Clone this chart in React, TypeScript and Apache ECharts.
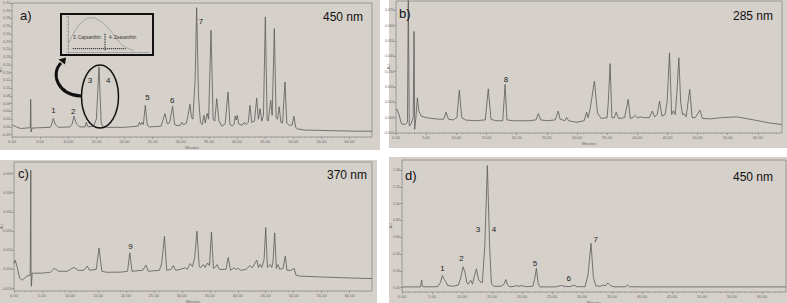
import React, { useEffect, useRef } from "react";
import * as echarts from "echarts";

// ---------- data ----------
const timeTicks = [0, 5, 10, 15, 20, 25, 30, 35, 40, 45, 50, 55, 60];
const aYTicks = [-0.02, 0, 0.02, 0.04, 0.06, 0.08, 0.1, 0.12, 0.14, 0.16, 0.18, 0.2, 0.22, 0.24, 0.26, 0.28, 0.3, 0.32];
const bYTicks = [-0.01, 0, 0.01, 0.02, 0.03, 0.04, 0.05, 0.06, 0.07];
const cYTicks = [-0.01, 0, 0.01, 0.02, 0.03, 0.04, 0.05];
const dYTicks = [0, 0.2, 0.4, 0.6, 0.8, 1.0, 1.2, 1.4];

// panel a) 450 nm  [minutes, AU]
const traceA = [
  [0, 0.002], [0.3, 0.004], [0.8, 0.0], [1.5, -0.004], [2.5, -0.003], [3.25, -0.002], [3.32, 0.071], [3.4, -0.013], [3.55, -0.003],
  [5, -0.002], [6.8, -0.001], [7.0, 0.004], [7.35, 0.022], [7.7, 0.006], [7.9, 0.004], [8.3, -0.001],
  [10.3, 0.0], [10.7, 0.008], [11.02, 0.028], [11.35, 0.012], [11.6, 0.006], [12.0, 0.0],
  [13.0, 0.0], [13.2, 0.012], [13.5, 0.0], [14.5, 0.002], [15.0, 0.02], [15.47, 0.155], [15.85, 0.01], [16.2, 0.0],
  [17, -0.001], [20, -0.001], [22.4, 0.002], [22.65, 0.012], [22.85, 0.005], [23.1, 0.012], [23.35, 0.006], [23.7, 0.056], [24.05, 0.004], [24.5, 0.0],
  [26.5, 0.002], [27.2, 0.0345], [27.6, 0.008], [28.0, 0.01], [28.56, 0.053], [28.9, 0.006], [29.5, 0.003],
  [30.0, 0.005], [30.2, 0.012], [30.5, 0.006], [31.0, 0.01], [31.3, 0.03], [31.64, 0.0586], [31.9, 0.025], [32.15, 0.02], [32.55, 0.12], [32.83, 0.308], [33.15, 0.08], [33.5, 0.012],
  [33.8, 0.006], [34.13, 0.03], [34.35, 0.01], [34.7, 0.035], [34.95, 0.02], [35.38, 0.2495], [35.75, 0.02], [36.05, 0.015], [36.39, 0.073], [36.8, 0.015], [37.3, 0.002], [37.9, 0.008], [38.4, 0.09], [38.75, 0.006], [39.2, 0.003],
  [39.5, 0.008], [39.68, 0.028], [39.85, 0.018], [40.05, 0.03], [40.3, 0.008], [40.9, 0.004], [41.3, 0.012], [41.6, 0.006], [42.0, 0.012], [42.3, 0.056], [42.6, 0.012], [43.1, 0.015], [43.5, 0.0748], [43.8, 0.02], [44.1, 0.047], [44.4, 0.015],
  [44.7, 0.03], [45.04, 0.284], [45.35, 0.02], [45.55, 0.015], [46.0, 0.069], [46.25, 0.03], [46.64, 0.254], [46.95, 0.025], [47.2, 0.02], [47.5, 0.052], [47.8, 0.012], [48.1, 0.01], [48.53, 0.116], [48.85, 0.01], [49.3, 0.004], [49.8, 0.005], [50.13, 0.0276], [50.4, 0.0], [50.7, -0.005],
  [52, -0.008], [55, -0.009], [58, -0.01], [61, -0.011], [64, -0.011],
];

// panel b) 285 nm
const traceB = [
  [0, 0.005], [0.15, 0.0055], [0.5, 0.002], [0.9, -0.004], [1.5, -0.0045], [1.9, -0.003], [2.04, 0.08], [2.2, -0.0055], [2.5, -0.004], [2.85, 0.0], [2.99, 0.0562], [3.1, -0.0076], [3.3, 0.0], [3.54, 0.013], [3.8, 0.004], [4.2, 0.001],
  [5, 0.0], [7, -0.001], [7.9, -0.001], [8.3, 0.0036], [8.7, -0.001], [9.5, -0.0015], [10.1, 0.0], [10.5, 0.0179], [10.9, 0.0], [11.5, -0.0015], [13, -0.002], [14.8, -0.0015], [15.3, 0.0188], [15.75, -0.001], [16.5, -0.002], [17.7, -0.002], [18.09, 0.0216], [18.4, -0.0015], [19.5, -0.002],
  [22, -0.002], [23.2, -0.0015], [23.6, 0.0026], [24.0, -0.0015], [25, -0.002], [26.4, -0.0015], [26.9, 0.0043], [27.2, -0.001], [28.0, -0.002], [28.3, 0.0002], [28.6, -0.002], [30, -0.003], [31.2, -0.002], [31.6, 0.0036], [31.85, 0.0], [32.2, 0.006], [32.9, 0.0238], [33.4, 0.003], [34.0, -0.0005],
  [35.0, 0.0], [35.2, 0.01], [35.5, 0.0352], [35.8, 0.0], [36.2, 0.0], [36.5, 0.0035], [36.9, -0.0005], [37.9, 0.0], [38.5, 0.0119], [38.85, -0.0005], [39.3, 0.0], [39.6, 0.0015], [40.0, 0.0], [40.6, 0.0005], [41.0, 0.0], [42.0, 0.0], [42.5, 0.0043], [42.9, 0.0005], [43.3, 0.002], [43.7, 0.0108], [44.1, 0.001],
  [44.6, 0.002], [44.95, 0.01], [45.35, 0.0422], [45.7, 0.002], [46.0, 0.0045], [46.3, 0.002], [46.55, 0.015], [46.9, 0.039], [47.2, 0.01], [47.5, 0.002], [47.8, 0.0025], [48.1, 0.0005], [48.7, 0.0184], [49.1, 0.0], [49.6, 0.0], [50.4, 0.0049], [50.8, -0.0005],
  [52, -0.0008], [54, 0.0], [56.5, 0.0005], [58, -0.0005], [60, -0.002], [62, -0.0035], [64, -0.0045],
];

// panel c) 370 nm
const traceC = [
  [0, 0.003], [0.2, 0.0048], [0.5, 0.002], [1.0, -0.0045], [1.5, -0.0056], [2.3, -0.0035], [2.9, -0.003], [3.0, 0.0517], [3.05, -0.002], [3.1, -0.0088], [3.25, -0.002], [3.5, -0.002],
  [5, -0.002], [6.5, -0.0015], [7.2, 0.0005], [8.0, -0.001], [9.5, -0.001], [10.7, 0.001], [11.5, -0.0005], [12.5, -0.0005], [13.1, 0.0017], [13.5, -0.0005], [14.7, 0.0], [15.2, 0.0112], [15.7, -0.001], [16.5, -0.0015],
  [19, -0.0015], [20.3, -0.001], [20.7, 0.0086], [21.1, -0.001], [23.0, -0.0005], [23.6, 0.0022], [24.0, -0.001], [26.0, -0.0005], [26.4, 0.003], [26.9, 0.0173], [27.3, -0.0005], [28.1, 0.0], [28.5, 0.002], [28.9, -0.0005], [29.7, 0.0],
  [30.6, 0.0008], [31.0, 0.0], [31.5, 0.003], [31.9, 0.0015], [32.3, 0.006], [32.7, 0.0199], [33.1, 0.002], [33.3, 0.0008], [33.85, 0.0025], [34.15, 0.001], [34.6, 0.0033], [34.95, 0.002], [35.3, 0.0195], [35.65, 0.0005], [36.0, 0.0012], [36.3, 0.0025], [36.7, 0.0],
  [37.9, 0.0], [38.3, 0.0062], [38.7, -0.0005], [39.3, 0.0008], [39.6, 0.0], [40.1, 0.0005], [40.5, -0.0005], [41.5, 0.0], [42.2, 0.002], [42.6, 0.0008], [43.4, 0.0048], [43.7, 0.001], [44.0, 0.0025], [44.3, 0.001],
  [44.7, 0.005], [45.0, 0.0218], [45.3, 0.001], [45.8, 0.0025], [46.1, 0.001], [46.3, 0.004], [46.6, 0.019], [46.9, 0.0005], [47.2, 0.0025], [47.5, 0.0], [48.1, 0.0005], [48.5, 0.0069], [48.8, -0.0005], [49.5, -0.0005], [50.1, 0.0005], [50.4, -0.003],
  [51, -0.0035], [55, -0.004], [60, -0.0045], [64, -0.0048],
];

// panel d) 450 nm
const traceD = [
  [0, 0.008], [3.1, 0.008], [3.2, 0.06], [3.28, 0.087], [3.35, 0.03], [3.5, 0.01], [5, 0.008], [6.0, 0.012], [6.4, 0.06], [6.73, 0.143], [7.0, 0.1], [7.3, 0.07], [7.6, 0.025], [8.5, 0.015],
  [9.4, 0.03], [9.8, 0.12], [10.17, 0.247], [10.5, 0.18], [10.8, 0.06], [11.0, 0.04], [11.45, 0.087], [11.75, 0.04], [12.0, 0.12], [12.4, 0.223], [12.75, 0.1], [13.0, 0.07], [13.4, 0.06], [13.8, 0.5], [14.23, 1.453], [14.6, 0.5], [14.9, 0.05], [15.3, 0.015],
  [16.5, 0.015], [17.0, 0.04], [17.3, 0.096], [17.6, 0.03], [18.0, 0.008], [18.8, 0.015], [19.1, 0.025], [19.5, 0.013], [19.9, 0.025], [20.6, 0.01], [21.8, 0.015], [22.1, 0.1], [22.4, 0.227], [22.7, 0.05], [23.0, 0.008],
  [25.5, 0.008], [26.6, 0.025], [27.0, 0.015], [28.0, 0.01], [28.6, 0.028], [29.2, 0.01], [30.5, 0.01], [31.0, 0.15], [31.5, 0.527], [31.9, 0.12], [32.3, 0.02], [33.0, 0.015], [33.5, 0.03], [33.9, 0.02], [34.3, 0.055], [34.8, 0.02], [35.5, 0.008],
  [37.3, 0.01], [37.6, 0.03], [37.9, 0.01], [40, 0.008], [64, 0.008],
];

// inset (relative time, normalised absorbance)
const insetCurve = [[0.04, 0.235], [0.85, 0.6], [1.7, 0.86], [2.9, 1.0], [3.9, 0.92], [5.1, 0.68], [6.3, 0.32], [7.2, 0.14], [8.2, 0.05]];
const insetBaseline = [[0.6, 0.1], [7.2, 0.1]];
const insetSplit = [[4.63, 0.05], [4.63, 0.55]];

// peak labels [label, minutes, AU]
const labelsA = [["1", 7.35, 0.043], ["2", 10.9, 0.041], ["3", 13.87, 0.12], ["4", 17.1, 0.12], ["5", 24.1, 0.077], ["6", 28.5, 0.069], ["7", 33.6, 0.271]];
const labelsB = [["8", 18.25, 0.0249]];
const labelsC = [["9", 20.8, 0.0121]];
const labelsD = [["1", 6.73, 0.228], ["2", 9.9, 0.347], ["3", 12.67, 0.695], ["4", 15.33, 0.695], ["5", 22.17, 0.2875], ["6", 27.78, 0.111], ["7", 32.28, 0.567]];

const panelTitles = ["a)", "b)", "c)", "d)"];
const wavelengths = ["450 nm", "285 nm", "370 nm", "450 nm"];

// ---------- styles ----------
const BG = "#d5d0ca";
const FONT = "Liberation Sans, Arial, sans-serif";
const TRACE = "#5a5a5a";

function xAxisFor(gridIndex: number) {
  return {
    type: "value",
    gridIndex,
    min: 0,
    max: 64,
    interval: 5,
    axisLine: { show: false, onZero: false },
    axisTick: { show: true, customValues: timeTicks, length: 2, lineStyle: { color: "#777", width: 0.6 } },
    minorTick: { show: true, splitNumber: 5, length: 1.2, lineStyle: { color: "#888", width: 0.5 } },
    axisLabel: { customValues: timeTicks, fontSize: 4, color: "#6a6a6a", margin: 2.5, fontFamily: FONT, formatter: (v: number) => v.toFixed(2) },
    splitLine: { show: false },
    name: "Minutes",
    nameLocation: "middle",
    nameGap: 8,
    nameMoveOverlap: false,
    nameTextStyle: { fontSize: 4, color: "#6a6a6a", fontFamily: FONT },
  };
}

function yAxisFor(gridIndex: number, min: number, max: number, ticks: number[], digits: number, nameGap: number) {
  return {
    type: "value",
    gridIndex,
    min,
    max,
    axisLine: { show: false, onZero: false },
    axisTick: { show: true, customValues: ticks, length: 2, lineStyle: { color: "#777", width: 0.6 } },
    axisLabel: { customValues: ticks, fontSize: 3.6, color: "#6a6a6a", margin: 2, fontFamily: FONT, formatter: (v: number) => v.toFixed(digits) },
    splitLine: { show: false },
    name: "AU",
    nameLocation: "middle",
    nameGap,
    nameRotate: 90,
    nameMoveOverlap: false,
    nameTextStyle: { fontSize: 3.6, color: "#6a6a6a", fontFamily: FONT },
  };
}

function traceSeries(idx: number, data: number[][], labels: any[]) {
  return {
    type: "line",
    xAxisIndex: idx,
    yAxisIndex: idx,
    data,
    showSymbol: false,
    clip: true,
    color: TRACE,
    lineStyle: { color: TRACE, width: 0.8 },
    silent: true,
    markPoint: {
      symbol: "circle",
      symbolSize: 0,
      silent: true,
      itemStyle: { color: "#222" },
      data: labels.map(([name, t, v]) => ({ name, coord: [t, v] })),
      label: { show: true, position: "inside", formatter: "{b}", fontSize: 8, color: "#222", textBorderWidth: 0, fontFamily: FONT },
    },
  };
}

const gridStyle = { show: true, borderColor: "#8c8c8c", borderWidth: 0.8, backgroundColor: "transparent", outerBoundsMode: "none", containLabel: false };

export default function App() {
  const ref = useRef<HTMLDivElement>(null);

  useEffect(() => {
    if (!ref.current) return;
    const chart = echarts.init(ref.current, undefined, { renderer: "svg", width: 787, height: 303 });

    const titleText = (text: string, x: number, y: number, size: number) => ({
      type: "text",
      x,
      y,
      style: { text, fontSize: size, fontFamily: FONT, fill: "#111", textVerticalAlign: "middle" },
      z: 10,
    });

    chart.setOption({
      animation: false,
      grid: [
        { left: 12, top: 3, width: 360, height: 134, ...gridStyle },
        { left: 396, top: 1, width: 386, height: 132, ...gridStyle },
        { left: 14, top: 162, width: 358, height: 129, ...gridStyle },
        { left: 402, top: 160, width: 384, height: 132, ...gridStyle },
        { left: 68, top: 16, width: 80, height: 36, show: false, outerBoundsMode: "none", containLabel: false },
      ],
      xAxis: [
        xAxisFor(0),
        xAxisFor(1),
        xAxisFor(2),
        xAxisFor(3),
        {
          type: "value", gridIndex: 4, min: 0, max: 10, interval: 1,
          axisLine: { show: true, onZero: false, lineStyle: { color: "#8a8a8a", width: 0.6 } },
          axisTick: { show: true, length: 1.5, lineStyle: { color: "#8a8a8a", width: 0.5 } },
          axisLabel: { show: false }, splitLine: { show: false },
        },
      ],
      yAxis: [
        yAxisFor(0, -0.026, 0.32, aYTicks, 2, 9),
        yAxisFor(1, -0.01, 0.076, bYTicks, 3, 5),
        yAxisFor(2, -0.0113, 0.056, cYTicks, 3, 10.5),
        yAxisFor(3, -0.053, 1.52, dYTicks, 2, 9),
        {
          type: "value", gridIndex: 4, min: 0, max: 1.05, interval: 0.1,
          axisLine: { show: true, onZero: false, lineStyle: { color: "#8a8a8a", width: 0.6 } },
          axisTick: { show: true, length: 1.5, lineStyle: { color: "#8a8a8a", width: 0.5 } },
          axisLabel: { show: false }, splitLine: { show: false },
        },
      ],
      series: [
        traceSeries(0, traceA, labelsA),
        traceSeries(1, traceB, labelsB),
        traceSeries(2, traceC, labelsC),
        traceSeries(3, traceD, labelsD),
        {
          type: "line", xAxisIndex: 4, yAxisIndex: 4, data: insetCurve, smooth: true, showSymbol: false, silent: true,
          lineStyle: { color: "#9a9a9a", width: 0.8 },
        },
        {
          type: "line", xAxisIndex: 4, yAxisIndex: 4, data: insetBaseline, showSymbol: false, silent: true,
          lineStyle: { color: "#222", width: 1.2, type: [1, 1] },
        },
        {
          type: "line", xAxisIndex: 4, yAxisIndex: 4, data: insetSplit, showSymbol: false, silent: true,
          lineStyle: { color: "#222", width: 1, type: [1.5, 1] },
        },
      ],
      graphic: [
        // inset frame
        { type: "rect", shape: { x: 61, y: 14, width: 92, height: 41 }, style: { fill: "none", stroke: "#111", lineWidth: 2 }, z: 5 },
        { type: "text", x: 73, y: 37.5, style: { text: "3. Capsanthin", fontSize: 4.5, fontFamily: FONT, fill: "#333", textVerticalAlign: "middle" }, z: 10 },
        { type: "text", x: 109, y: 37.5, style: { text: "4. Zeaxanthin", fontSize: 4.5, fontFamily: FONT, fill: "#333", textVerticalAlign: "middle" }, z: 10 },
        // ellipse around peaks 3/4
        { type: "ellipse", shape: { cx: 100, cy: 96.5, rx: 18.5, ry: 31.5 }, style: { fill: "none", stroke: "#111", lineWidth: 1.5 }, z: 10 },
        // curved arrow
        { type: "bezierCurve", shape: { x1: 81, y1: 96, cpx1: 58, cpy1: 95, cpx2: 50, cpy2: 74, x2: 61, y2: 63 }, style: { fill: "none", stroke: "#111", lineWidth: 3 }, z: 10 },
        { type: "polygon", shape: { points: [[66, 57.5], [65, 64.5], [58.5, 59.5]] }, style: { fill: "#111" }, z: 10 },
        // panel titles and wavelengths
        titleText(panelTitles[0], 20, 15, 13),
        titleText(wavelengths[0], 323, 16.5, 12),
        titleText(panelTitles[1], 399, 13, 13),
        titleText(wavelengths[1], 733, 16, 12),
        titleText(panelTitles[2], 18, 173.5, 13),
        titleText(wavelengths[2], 327, 175, 12),
        titleText(panelTitles[3], 405, 175, 13),
        titleText(wavelengths[3], 733, 177, 12),
      ],
    });
    return () => chart.dispose();
  }, []);

  const bg = (left: number, top: number, width: number, height: number) => (
    <div style={{ position: "absolute", left, top, width, height, background: BG }} />
  );

  return (
    <div style={{ position: "fixed", left: 0, top: 0, width: 787, height: 303, background: "#fff", overflow: "hidden" }}>
      {bg(0, 0, 380, 150)}
      {bg(389, 0, 398, 148)}
      {bg(0, 160, 377, 143)}
      {bg(389, 157, 398, 146)}
      <div ref={ref} style={{ position: "absolute", left: 0, top: 0, width: 787, height: 303 }} />
    </div>
  );
}
